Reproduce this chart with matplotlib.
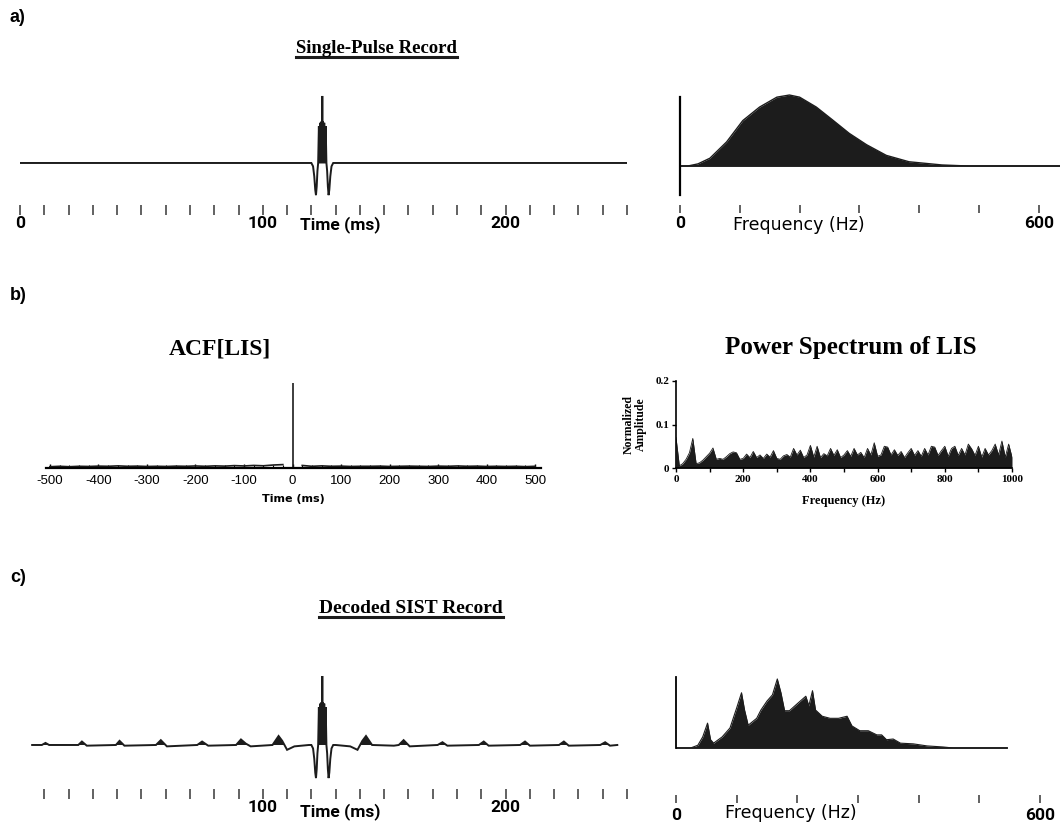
import numpy as np
import matplotlib
matplotlib.use('Agg')
import matplotlib.pyplot as plt
from matplotlib.lines import Line2D

# ---- data ----
# single pulse (offsets in ms from the pulse centre, normalised amplitude)
pulse_dt = [-4.5, -3.8, -3.3, -2.9, -2.6, -2.3, -2.0, -1.7, -1.4, -1.1, -0.8, -0.55, -0.3, -0.1, 0.0,
            0.1, 0.3, 0.55, 0.8, 1.1, 1.4, 1.7, 2.0, 2.3, 2.6, 2.9, 3.3, 3.8, 4.5]
pulse_amp = [0, -0.05, -0.2, -0.4, -0.48, -0.35, -0.12, 0.0, 0.55, 0.05, 0.6, 0.1, 0.62, 0.3, 1.0,
             0.3, 0.62, 0.1, 0.6, 0.05, 0.55, 0.0, -0.12, -0.35, -0.48, -0.4, -0.2, -0.05, 0]
pulse_center = 124.5

# single pulse spectrum (Hz, normalised)
spec_a_f = [0, 13, 30, 50, 78, 105, 133, 162, 183, 200, 228, 255, 283, 312, 345, 383, 438, 483, 635]
spec_a_v = [0, 0, 0.03, 0.11, 0.34, 0.64, 0.83, 0.97, 1.0, 0.97, 0.83, 0.65, 0.46, 0.30, 0.15, 0.06, 0.015, 0, 0]

# ACF of the LIS (lag in ms)
acf_lag = list(range(-500, 501, 20))
acf_val = [0.015, 0.02, 0.015, 0.02, 0.018, 0.022, 0.02, 0.025, 0.02, 0.022, 0.018, 0.02, 0.018,
           0.022, 0.02, 0.024, 0.02, 0.025, 0.022, 0.028, 0.024, 0.03, 0.026, 0.035, 0.04,
           1.0,
           0.03, 0.02, 0.025, 0.02, 0.022, 0.018, 0.02, 0.02, 0.022, 0.018, 0.02, 0.022, 0.02,
           0.018, 0.022, 0.02, 0.024, 0.02, 0.022, 0.018, 0.02, 0.018, 0.02, 0.016, 0.02]

# power spectrum of LIS (0..1000 Hz, step 10)
lis_f = list(range(0, 1001, 10))
lis_v = [0.070, 0.005, 0.010, 0.020, 0.035, 0.068, 0.010, 0.012, 0.018, 0.026,
         0.034, 0.046, 0.020, 0.022, 0.020, 0.026, 0.033, 0.037, 0.035, 0.020,
         0.022, 0.032, 0.024, 0.038, 0.024, 0.030, 0.022, 0.032, 0.025, 0.040,
         0.022, 0.020, 0.028, 0.031, 0.025, 0.045, 0.030, 0.041, 0.024, 0.030,
         0.052, 0.025, 0.050, 0.024, 0.033, 0.028, 0.045, 0.029, 0.042, 0.024,
         0.030, 0.040, 0.027, 0.045, 0.030, 0.036, 0.024, 0.045, 0.030, 0.058,
         0.027, 0.030, 0.050, 0.048, 0.030, 0.042, 0.029, 0.038, 0.024, 0.035,
         0.045, 0.029, 0.040, 0.027, 0.045, 0.030, 0.050, 0.048, 0.029, 0.040,
         0.050, 0.027, 0.045, 0.050, 0.029, 0.045, 0.030, 0.055, 0.044, 0.029,
         0.050, 0.025, 0.045, 0.030, 0.040, 0.055, 0.030, 0.062, 0.025, 0.055,
         0.025]

# decoded SIST record, background around the pulse (ms, normalised)
sist_t_left = [5, 9, 10.5, 12, 24, 25.5, 27.5, 39.5, 41, 43, 56, 58, 60.5, 73, 75, 77.5,
               89, 91, 93, 95, 104, 106.5, 108, 110, 113, 119]
sist_v_left = [0, 0, 0.03, 0, 0, 0.05, -0.01, 0, 0.06, -0.01, 0, 0.07, -0.02, 0, 0.05, -0.01,
               0, 0.08, 0.02, -0.02, 0, 0.13, 0.06, -0.07, -0.02, 0]
sist_t_right = [130, 136, 139, 141, 142.5, 145, 154, 156, 158, 160.5, 172, 174, 176, 189, 191, 193,
                206, 208, 210, 222, 224, 226, 239, 241, 243, 246]
sist_v_right = [0, -0.02, -0.07, 0.06, 0.13, 0, -0.01, 0, 0.07, -0.02, 0, 0.04, -0.01, 0, 0.05, -0.01,
                0, 0.05, -0.01, 0, 0.05, -0.01, 0, 0.04, -0.01, 0]

# decoded SIST spectrum (Hz, normalised)
spec_c_f = [0, 24, 36, 44, 52, 57, 62, 76, 89, 100, 108, 113, 119, 133, 140, 150, 159, 167, 173, 179,
            187, 201, 214, 219, 225, 230, 241, 254, 268, 282, 290, 303, 317, 331, 339, 347, 358, 370,
            391, 414, 440, 457, 546]
spec_c_v = [0, 0, 0.04, 0.16, 0.36, 0.12, 0.07, 0.16, 0.29, 0.58, 0.80, 0.55, 0.33, 0.43, 0.55, 0.68,
            0.77, 1.0, 0.80, 0.54, 0.54, 0.65, 0.75, 0.61, 0.83, 0.55, 0.46, 0.43, 0.43, 0.46, 0.32,
            0.25, 0.25, 0.19, 0.19, 0.12, 0.13, 0.07, 0.06, 0.03, 0.015, 0, 0]

INK = '#1c1c1c'
NARROW = ['Roboto', 'Liberation Sans', 'DejaVu Sans']
SERIF = ['Liberation Serif', 'DejaVu Serif']
WIDE = ['DejaVu Sans']

W, H = 1060, 825
fig = plt.figure(figsize=(W / 100, H / 100), dpi=100)


def px_axes(x0, y0, x1, y1):
    return fig.add_axes([x0 / W, 1 - y1 / H, (x1 - x0) / W, (y1 - y0) / H])


def ftext(x, y, s, **kw):
    return fig.text(x / W, 1 - y / H, s, **kw)


def bare(ax):
    for sp in ax.spines.values():
        sp.set_visible(False)
    ax.set_yticks([])
    ax.patch.set_alpha(0)


def waveform(ax, t, v):
    ax.plot(t, v, color=INK, lw=1.4, solid_joinstyle='miter')
    ax.fill_between(t, 0, v, where=np.array(v) > 0, color=INK, lw=0, interpolate=True)


def time_ticks(ax, ticks, labels, label_x, label_y):
    ax.set_xticks(ticks)
    ax.set_xticklabels(labels, family=NARROW, weight='bold', size=12.5)
    ax.tick_params(axis='x', length=7, width=1.3, color='#555555', pad=1)
    ax.text(label_x, label_y, 'Time (ms)', transform=ax.get_xaxis_transform(), ha='center',
            va='center', family=NARROW, weight='bold', size=12.5)


# panel labels
for lab, y in [('a)', 17), ('b)', 295), ('c)', 578)]:
    ftext(10, y, lab, ha='left', va='center', family=['Liberation Sans', 'DejaVu Sans'],
          weight='bold', size=13)

# ---------------- a) single pulse record ----------------
ax = px_axes(20, 88, 627, 205)
bare(ax)
t_a = [0] + [pulse_center + d for d in pulse_dt] + [250]
v_a = [0] + pulse_amp + [0]
waveform(ax, t_a, v_a)
ax.set_xlim(0, 250)
ax.set_ylim(-0.627, 1.119)
time_ticks(ax, list(range(0, 251, 10)),
           ['0' if k == 0 else '100' if k == 100 else '200' if k == 200 else '' for k in range(0, 251, 10)],
           132, -0.17)

ax = px_axes(680, 88, 1060, 205)
bare(ax)
ax.fill_between(spec_a_f, 0, spec_a_v, color=INK, lw=0)
ax.plot(spec_a_f, spec_a_v, color=INK, lw=1.0)
ax.axhline(0, color=INK, lw=1.3)
ax.spines['left'].set_visible(True)
ax.spines['left'].set_bounds(-0.41, 0.97)
ax.spines['left'].set_linewidth(1.6)
ax.set_xlim(0, 635.5)
ax.set_ylim(-0.549, 1.099)
ax.set_xticks(range(0, 601, 100))
ax.set_xticklabels(['0', '', '', '', '', '', '600'], family=NARROW, weight='bold', size=12.5)
ax.tick_params(axis='x', length=6, width=1.3, color='#555555', pad=2)
ax.text(199, -0.17, 'Frequency (Hz)', transform=ax.get_xaxis_transform(), ha='center',
        va='center', family=WIDE, size=12.5)

# ---------------- b) ACF and power spectrum of LIS ----------------
ax = px_axes(46, 380, 541, 468)
for s in ['top', 'right', 'left']:
    ax.spines[s].set_visible(False)
ax.spines['bottom'].set_linewidth(1.6)
ax.plot(acf_lag[:25], acf_val[:25], color=INK, lw=1.2)
ax.plot(acf_lag[26:], acf_val[26:], color=INK, lw=1.2)
ax.vlines(acf_lag[25], 0, acf_val[25], color=INK, lw=1.2)
ax.set_xlim(-508, 512)
ax.set_ylim(0, 1.035)
ax.set_yticks([])
ax.set_xticks(range(-500, 501, 100))
ax.set_xticklabels(['-500', '-400', '-300', '-200', '-100', '0', '100', '200', '300', '400', '500'],
                   family=['Liberation Sans', 'DejaVu Sans'], size=9.5)
ax.set_xticks(range(-500, 501, 20), minor=True)
ax.tick_params(axis='x', which='major', direction='in', length=3, width=1, pad=5)
ax.tick_params(axis='x', which='minor', direction='in', length=2, width=0.8)
ax.set_xlabel('Time (ms)', family=WIDE, weight='bold', size=8, labelpad=5)
ax.patch.set_alpha(0)

ax = px_axes(676, 381, 1012, 468)
ax.spines['top'].set_visible(False)
ax.spines['right'].set_visible(False)
ax.spines['left'].set_linewidth(1.2)
ax.spines['bottom'].set_linewidth(1.2)
ax.fill_between(lis_f, 0, lis_v, color=INK, lw=0)
ax.plot(lis_f, lis_v, color=INK, lw=0.6)
ax.set_xlim(0, 1000)
ax.set_ylim(0, 0.2)
ax.set_yticks([0, 0.1, 0.2])
ax.set_yticklabels(['0', '0.1', '0.2'], family=SERIF, weight='bold', size=8)
ax.set_xticks(range(0, 1001, 200))
ax.set_xticklabels(['0', '200', '400', '600', '800', '1000'], family=SERIF, weight='bold', size=8)
ax.set_xticks(range(0, 1001, 100), minor=True)
ax.tick_params(which='both', length=3, width=1, pad=2)
ax.set_ylabel('Normalized\nAmplitude', family=SERIF, weight='bold', size=8.5, labelpad=6, linespacing=1.0)
ax.set_xlabel('Frequency (Hz)', family=SERIF, weight='bold', size=9, labelpad=8)
ax.patch.set_alpha(0)

# ---------------- c) decoded SIST record ----------------
ax = px_axes(20, 670, 627, 789)
bare(ax)
t_c = sist_t_left + [pulse_center + d for d in pulse_dt] + sist_t_right
v_c = sist_v_left + pulse_amp + sist_v_right
waveform(ax, t_c, v_c)
ax.set_xlim(0, 250)
ax.set_ylim(-0.638, 1.087)
time_ticks(ax, list(range(10, 251, 10)),
           ['100' if k == 100 else '200' if k == 200 else '' for k in range(10, 251, 10)],
           132, -0.19)

ax = px_axes(676, 670, 1060, 795)
bare(ax)
ax.fill_between(spec_c_f, 0, spec_c_v, color=INK, lw=0)
ax.plot(spec_c_f, spec_c_v, color=INK, lw=0.8)
ax.axhline(0, xmax=546 / 633, color=INK, lw=1.3)
ax.spines['left'].set_visible(True)
ax.spines['left'].set_bounds(0, 1.03)
ax.spines['left'].set_linewidth(1.3)
ax.set_xlim(0, 633)
ax.set_ylim(-0.681, 1.13)
ax.set_xticks(range(0, 601, 100))
ax.set_xticklabels(['0', '', '', '', '', '', '600'], family=NARROW, weight='bold', size=12.5)
ax.tick_params(axis='x', length=6, width=1.3, color='#555555', pad=3)
ax.text(189, -0.14, 'Frequency (Hz)', transform=ax.get_xaxis_transform(), ha='center',
        va='center', family=WIDE, size=12.5)

# ---------------- titles ----------------
t1 = ftext(376, 53, 'Single-Pulse Record', ha='center', va='baseline', family=SERIF, weight='bold', size=13.5)
t2 = ftext(411, 613, 'Decoded SIST Record', ha='center', va='baseline', family=SERIF, weight='bold', size=14)
ftext(220, 354, 'ACF[LIS]', ha='center', va='baseline', family=SERIF, weight='bold', size=17)
ftext(851, 354, 'Power Spectrum of LIS', ha='center', va='baseline', family=SERIF, weight='bold', size=18)

fig.canvas.draw()
for t in (t1, t2):
    bb = t.get_window_extent()
    yb = t.get_position()[1] - 4 / H
    fig.add_artist(Line2D([bb.x0 / W, bb.x1 / W], [yb, yb], transform=fig.transFigure,
                          color=INK, lw=2.2))

fig.savefig('out.png', dpi=100)
